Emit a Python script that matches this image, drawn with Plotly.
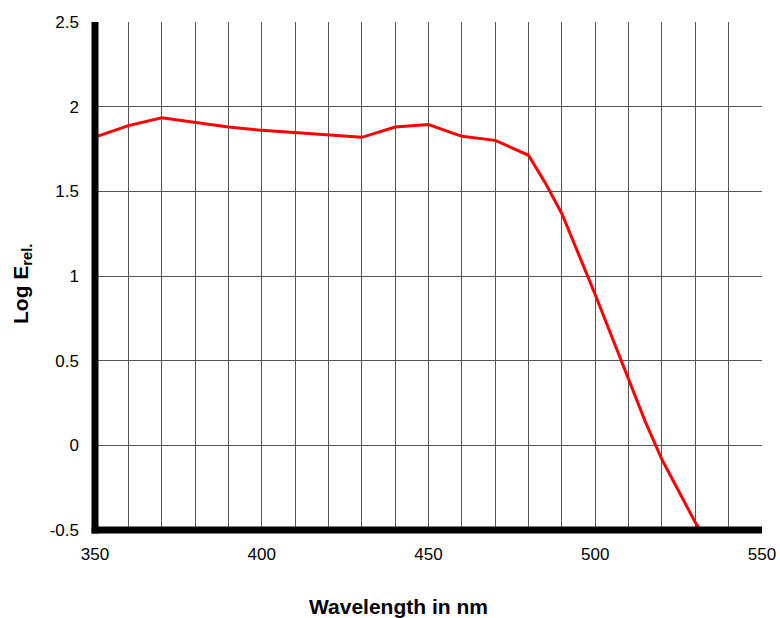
import plotly.graph_objects as go

wavelength = [350, 360, 370, 380, 390, 400, 410, 420, 430, 440, 450, 460, 470, 480,
              485, 490, 495, 500, 505, 510, 515, 520, 525, 530, 531.5]
log_e = [1.82, 1.888, 1.935, 1.907, 1.880, 1.860, 1.845, 1.833, 1.819, 1.880, 1.894,
         1.825, 1.801, 1.713, 1.55, 1.368, 1.13, 0.89, 0.64, 0.39, 0.14, -0.084,
         -0.27, -0.455, -0.5]

x_ticks = [350, 400, 450, 500, 550]
y_ticks = [-0.5, 0, 0.5, 1, 1.5, 2, 2.5]
y_tick_text = ["-0.5", "0", "0.5", "1", "1.5", "2", "2.5"]

FONT = "Liberation Sans, Arial, sans-serif"
GRID = "#555555"

fig = go.Figure()
fig.add_trace(go.Scatter(x=wavelength, y=log_e, mode="lines",
                         line=dict(color="#ff0000", width=3), showlegend=False))

fig.update_layout(
    width=780, height=618,
    margin=dict(l=95, r=18, t=22, b=88),
    paper_bgcolor="white", plot_bgcolor="white",
    font=dict(family=FONT, size=17, color="black"),
    xaxis=dict(range=[350, 550], tickvals=x_ticks, showgrid=True, gridcolor=GRID,
               gridwidth=1, zeroline=False, showline=False, automargin=False,
               minor=dict(dtick=10, showgrid=True, gridcolor=GRID, gridwidth=1),
               ticks="", ticklabelstandoff=12, tickfont=dict(size=17)),
    yaxis=dict(range=[-0.5, 2.5], tickvals=y_ticks, ticktext=y_tick_text,
               showgrid=True, gridcolor=GRID, gridwidth=1, zeroline=False,
               showline=False, ticks="", ticklabelstandoff=15, automargin=False,
               tickfont=dict(size=17)),
    shapes=[
        dict(type="line", xref="paper", yref="paper", x0=0, x1=0, y0=-0.007, y1=1,
             line=dict(color="black", width=7), layer="above"),
        dict(type="line", xref="paper", yref="paper", x0=-0.005, x1=1, y0=0, y1=0,
             line=dict(color="black", width=7), layer="above"),
    ],
    annotations=[
        dict(text="<b>Wavelength in nm</b>", xref="paper", yref="paper",
             x=(398 - 95) / 667, y=-(606 - 530) / 508, showarrow=False,
             xanchor="center", yanchor="middle", font=dict(size=21, family=FONT)),
        dict(text="<b>Log E<sub>rel.</sub></b>", xref="paper", yref="paper",
             x=-(95 - 22) / 667, y=(530 - 284) / 508, showarrow=False, textangle=-90,
             xanchor="center", yanchor="middle", font=dict(size=21, family=FONT)),
    ],
)

fig.write_html("out.html",
               config={"displayModeBar": False},
               post_script="document.body.style.margin='0';"
                           "document.body.style.overflow='hidden';")
